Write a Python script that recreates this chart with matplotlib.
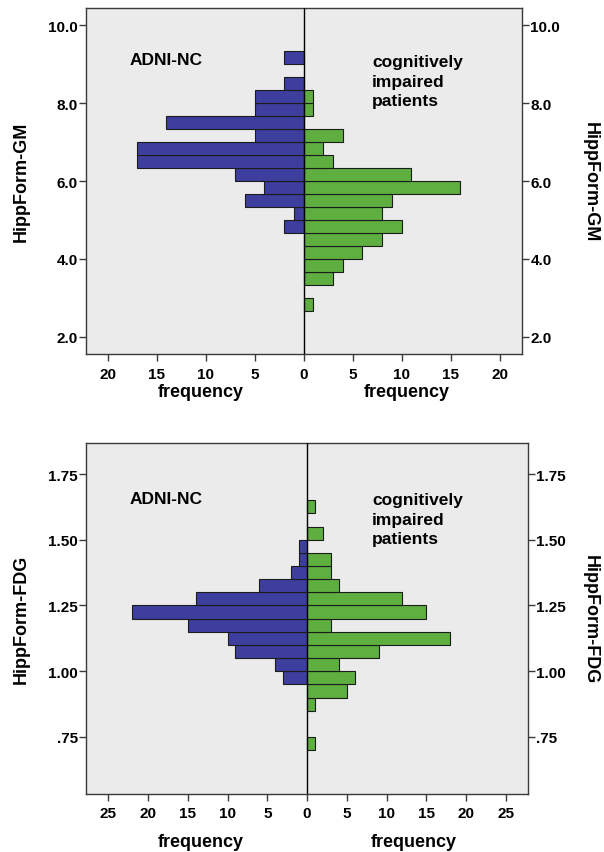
import numpy as np
import matplotlib
matplotlib.use("Agg")
import matplotlib.pyplot as plt

plt.rcParams["font.family"] = ["Liberation Sans", "DejaVu Sans"]
plt.rcParams["font.weight"] = "bold"

# ── data ──────────────────────────────────────────────────────────────────────
# HippForm-GM: bins of width 1/3, lower edges from 8/3 up to 9.0
gm_bin_lo = np.arange(20) / 3 + 8 / 3
gm_nc = [0, 0, 0, 0, 0, 0, 2, 1, 6, 4, 7, 17, 17, 5, 14, 5, 5, 2, 0, 2]
gm_ci = [1, 0, 3, 4, 6, 8, 10, 8, 9, 16, 11, 3, 2, 4, 0, 1, 1, 0, 0, 0]
gm_yticks = [2.0, 4.0, 6.0, 8.0, 10.0]
gm_xticks = [-20, -15, -10, -5, 0, 5, 10, 15, 20]

# HippForm-FDG: bins of width 0.05, lower edges 0.70 .. 1.60
fdg_bin_lo = [0.70, 0.75, 0.80, 0.85, 0.90, 0.95, 1.00, 1.05, 1.10, 1.15,
              1.20, 1.25, 1.30, 1.35, 1.40, 1.45, 1.50, 1.55, 1.60]
fdg_nc = [0, 0, 0, 0, 0, 3, 4, 9, 10, 15, 22, 14, 6, 2, 1, 1, 0, 0, 0]
fdg_ci = [1, 0, 0, 1, 5, 6, 4, 9, 18, 3, 15, 12, 4, 3, 3, 0, 2, 0, 1]
fdg_yticks = [0.75, 1.00, 1.25, 1.50, 1.75]
fdg_yticklabels = [".75", "1.00", "1.25", "1.50", "1.75"]
fdg_xticks = [-25, -20, -15, -10, -5, 0, 5, 10, 15, 20, 25]

BLUE = "#3d3e9e"
GREEN = "#5eae40"
BG = "#ebebeb"
EDGE = "#1c1c1c"
SPINE = "#3a3a3a"
TICK_FS = 11
LAB_FS = 13


def pyramid(ax, lo, width, nc, ci, ylim, xlim, yticks, yticklabels, xticks,
            ylabel, freq_x, freq_y, lab_x, nc_pos, ci_pos):
    lo = np.asarray(lo, dtype=float)
    nc = np.asarray(nc)
    ci = np.asarray(ci)
    centers = lo + width / 2
    m = nc > 0
    ax.barh(centers[m], -nc[m], height=width, color=BLUE, edgecolor=EDGE, lw=0.8, zorder=2)
    m = ci > 0
    ax.barh(centers[m], ci[m], height=width, color=GREEN, edgecolor=EDGE, lw=0.8, zorder=2)
    ax.axvline(0, color="black", lw=1.0, zorder=3)
    ax.set_facecolor(BG)
    ax.set_xlim(*xlim); ax.set_ylim(*ylim)
    ax.set_xticks(xticks)
    ax.set_xticklabels([str(abs(t)) for t in xticks], fontsize=TICK_FS, fontweight="bold")
    ax.set_yticks(yticks)
    ax.set_yticklabels(yticklabels, fontsize=TICK_FS, fontweight="bold")
    ax.tick_params(axis="x", length=5, width=1, pad=4, color=SPINE)
    ax.tick_params(axis="y", length=5, width=1, pad=1, color=SPINE)
    for s in ax.spines.values():
        s.set_color(SPINE); s.set_linewidth(1.0)
    ax.set_ylabel(ylabel, fontsize=LAB_FS, fontweight="bold")
    ax.yaxis.set_label_coords(lab_x[0], 0.5)

    tw = ax.twinx()
    tw.set_ylim(*ylim)
    tw.set_yticks(yticks)
    tw.set_yticklabels(yticklabels, fontsize=TICK_FS, fontweight="bold")
    tw.tick_params(axis="y", length=5, width=1, pad=1, color=SPINE)
    tw.set_ylabel(ylabel, fontsize=LAB_FS, fontweight="bold", rotation=-90, va="center")
    tw.yaxis.set_label_coords(lab_x[1], 0.5)
    for s in tw.spines.values():
        s.set_visible(False)

    for fx in freq_x:
        ax.text(fx, freq_y, "frequency", transform=ax.get_xaxis_transform(),
                ha="center", va="center", fontsize=LAB_FS, fontweight="bold")
    ax.text(nc_pos[0], nc_pos[1], "ADNI-NC", transform=ax.transAxes,
            ha="left", va="center", fontsize=12.5, fontweight="bold")
    ax.text(ci_pos[0], ci_pos[1], "cognitively\nimpaired\npatients", transform=ax.transAxes,
            ha="left", va="center", fontsize=12.5, fontweight="bold", linespacing=1.4)


fig = plt.figure(figsize=(6.04, 8.53), dpi=100)
ax1 = fig.add_axes([0.1424, 0.5838, 0.7219, 0.4056])
ax2 = fig.add_axes([0.1424, 0.0680, 0.7318, 0.4115])

pyramid(ax1, gm_bin_lo, 1 / 3, gm_nc, gm_ci, (1.56, 10.44), (-22.2, 22.3),
        gm_yticks, [f"{t:.1f}" for t in gm_yticks], gm_xticks, "HippForm-GM",
        (-10.5, 10.5), -0.107, (-0.13, 1.156), (0.101, 0.85), (0.656, 0.789))
pyramid(ax2, fdg_bin_lo, 0.05, fdg_nc, fdg_ci, (0.533, 1.868), (-27.8, 27.8),
        fdg_yticks, fdg_yticklabels, fdg_xticks, "HippForm-FDG",
        (-13.4, 13.4), -0.134, (-0.128, 1.14), (0.0995, 0.843), (0.647, 0.783))

fig.savefig("out.png", dpi=100, facecolor="white")
